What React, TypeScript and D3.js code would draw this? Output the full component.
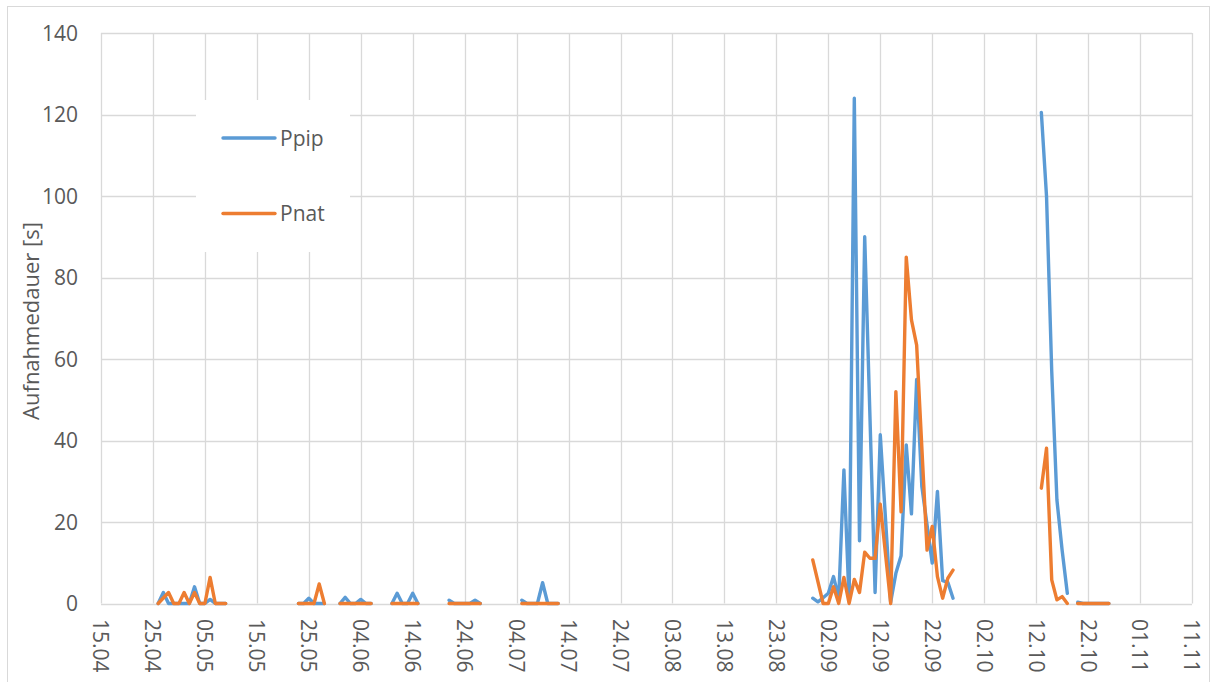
import React from "react";
import * as d3 from "d3";

const YEAR = 2019;
const _ = undefined; // no reading for that day (line connects across it)

// x axis tick labels (every 10 days)
const xTickLabels = [
  "15.04", "25.04", "05.05", "15.05", "25.05", "04.06", "14.06", "24.06",
  "04.07", "14.07", "24.07", "03.08", "13.08", "23.08", "02.09", "12.09",
  "22.09", "02.10", "12.10", "22.10", "01.11", "11.11",
];
const yTicks = [0, 20, 40, 60, 80, 100, 120, 140];

// dates; entries whose values are null are gaps in the recording
const dates = [
  "26.04", "27.04", "28.04", "29.04", "30.04", "01.05", "02.05", "03.05", "04.05", "05.05", "06.05", "07.05", "08.05", "09.05",
  "10.05",
  "23.05", "24.05", "25.05", "26.05", "27.05", "28.05",
  "29.05",
  "31.05", "01.06", "02.06", "03.06", "04.06", "05.06", "06.06",
  "07.06",
  "10.06", "11.06", "12.06", "13.06", "14.06", "15.06",
  "16.06",
  "21.06", "22.06", "23.06", "24.06", "25.06", "26.06", "27.06",
  "28.06",
  "05.07", "06.07", "07.07", "08.07", "09.07", "10.07", "11.07", "12.07",
  "13.07",
  "30.08", "31.08", "01.09", "02.09", "03.09", "04.09", "05.09", "06.09", "07.09", "08.09",
  "09.09", "10.09", "11.09", "12.09", "13.09", "14.09", "15.09", "16.09", "17.09", "18.09",
  "19.09", "20.09", "21.09", "22.09", "23.09", "24.09", "25.09", "26.09",
  "27.09",
  "13.10", "14.10", "15.10", "16.10", "17.10", "18.10",
  "19.10",
  "20.10", "21.10", "22.10", "23.10", "24.10", "25.10", "26.10",
];

const ppip = [
  0, 2.7, 0, 0, 0, 0, 0, 4.1, 0, 0, 1.0, 0, 0, 0,
  null,
  0, 0, 1.3, 0, 0, 0,
  null,
  0, 1.5, 0, 0, 1.0, 0, 0,
  null,
  0, 2.5, 0, 0, 2.5, 0,
  null,
  0.8, 0, 0, 0, 0, 0.8, 0,
  null,
  0.8, 0, 0, 0, 5.1, 0, 0, 0,
  null,
  1.3, 0.4, 1.4, 2.5, 6.6, 1.3, 32.8, 0.5, 124, 15.4,
  90, _, 2.7, 41.4, _, 0.3, 7.4, 11.7, 38.9, 22,
  55, 28.7, _, 9.9, 27.5, 5.6, 5.2, 1.3,
  null,
  120.5, 99.9, 57, 25.4, 13.1, 2.5,
  null,
  0.3, 0, 0, 0, 0, 0, 0,
];

const pnat = [
  0, _, 2.7, 0, 0, 2.7, 0, 2.7, 0, 0, 6.4, 0, 0, 0,
  null,
  0, 0, 0, 0, 4.8, 0,
  null,
  0, 0, 0, 0, 0, 0, 0,
  null,
  0, 0, 0, 0, 0, 0,
  null,
  0, 0, 0, 0, 0, 0, 0,
  null,
  0, 0, 0, 0, 0, 0, 0, 0,
  null,
  10.7, _, 0, 0, 4.1, 0, 6.4, 0, 5.9, 2.7,
  12.6, 11.1, 11.1, 24.4, _, 0, 52, 22.5, 85, 69.6,
  63.4, _, 13.1, 18.9, 6.6, 1.3, 6.2, 8.2,
  null,
  28.3, 38.1, 5.8, 0.9, 1.7, 0,
  null,
  0, 0, 0, 0, 0, 0, 0,
];

const seriesNames = ["Ppip", "Pnat"];
const seriesColors = ["#5B9BD5", "#ED7D31"];

const W = 1216;
const H = 682;
const FONT = "'Open Sans', 'Liberation Sans', Arial, sans-serif";
const TEXT = "#595959";
const GRID = "#D9D9D9";

function parse(s: string): Date {
  const [dd, mm] = s.split(".").map(Number);
  return new Date(Date.UTC(YEAR, mm - 1, dd));
}

export default function App() {
  const x = d3
    .scaleUtc()
    .domain([parse(xTickLabels[0]), parse(xTickLabels[xTickLabels.length - 1])])
    .range([101, 1192]);
  const y = d3.scaleLinear().domain([0, 140]).range([603.5, 33]);

  type Pt = { date: Date; v: number | null };
  const build = (vals: (number | null | undefined)[]): Pt[] =>
    dates
      .map((d, i) => ({ date: parse(d), v: vals[i] }))
      .filter((p) => p.v !== undefined) as Pt[];

  const line = d3
    .line<Pt>()
    .defined((p) => p.v !== null)
    .x((p) => x(p.date))
    .y((p) => y(p.v as number));

  const series = [build(ppip), build(pnat)];
  const crisp = (v: number) => Math.round(v) + 0.5;

  return (
    <svg
      width={W}
      height={H}
      style={{ position: "absolute", left: 0, top: 0, background: "#fff" }}
      fontFamily={FONT}
    >
      <rect x={0} y={0} width={W} height={H} fill="#fff" />
      <rect x={7.5} y={6.5} width={1202} height={700} fill="none" stroke={GRID} strokeWidth={1} />

      {/* horizontal grid */}
      {yTicks.map((t) => (
        <line key={"h" + t} x1={101} x2={1192} y1={crisp(y(t))} y2={crisp(y(t))} stroke={GRID} strokeWidth={1.3} />
      ))}
      {/* vertical grid */}
      {xTickLabels.map((t) => (
        <line
          key={"v" + t}
          x1={crisp(x(parse(t)))}
          x2={crisp(x(parse(t)))}
          y1={y(140)}
          y2={y(0)}
          stroke={GRID}
          strokeWidth={1.3}
        />
      ))}

      {/* y tick labels */}
      {yTicks.map((t) => (
        <text key={"yl" + t} x={78} y={y(t)} dy="0.36em" textAnchor="end" fontSize={21} fill={TEXT}>
          {t}
        </text>
      ))}

      {/* x tick labels, rotated */}
      {xTickLabels.map((t) => {
        const px = x(parse(t));
        return (
          <text
            key={"xl" + t}
            transform={`translate(${px},619) rotate(90)`}
            dy="0.36em"
            textAnchor="start"
            fontSize={21}
            fill={TEXT}
          >
            {t}
          </text>
        );
      })}

      {/* axis title */}
      <text
        transform={`translate(31,321) rotate(-90)`}
        textAnchor="middle"
        dy="0.36em"
        fontSize={22}
        fill={TEXT}
      >
        Aufnahmedauer [s]
      </text>

      {/* series */}
      {series.map((s, i) => (
        <path
          key={seriesNames[i]}
          d={line(s) || ""}
          fill="none"
          stroke={seriesColors[i]}
          strokeWidth={3.4}
          strokeLinejoin="round"
          strokeLinecap="round"
        />
      ))}

      {/* legend */}
      <rect x={196} y={100} width={154} height={152} fill="#fff" />
      {seriesNames.map((n, i) => {
        const ly = 138 + i * 75.5;
        return (
          <g key={"lg" + n}>
            <line x1={223} x2={275} y1={ly} y2={ly} stroke={seriesColors[i]} strokeWidth={3.4} strokeLinecap="round" />
            <text x={280} y={ly} dy="0.36em" fontSize={21} fill={TEXT}>
              {n}
            </text>
          </g>
        );
      })}
    </svg>
  );
}
